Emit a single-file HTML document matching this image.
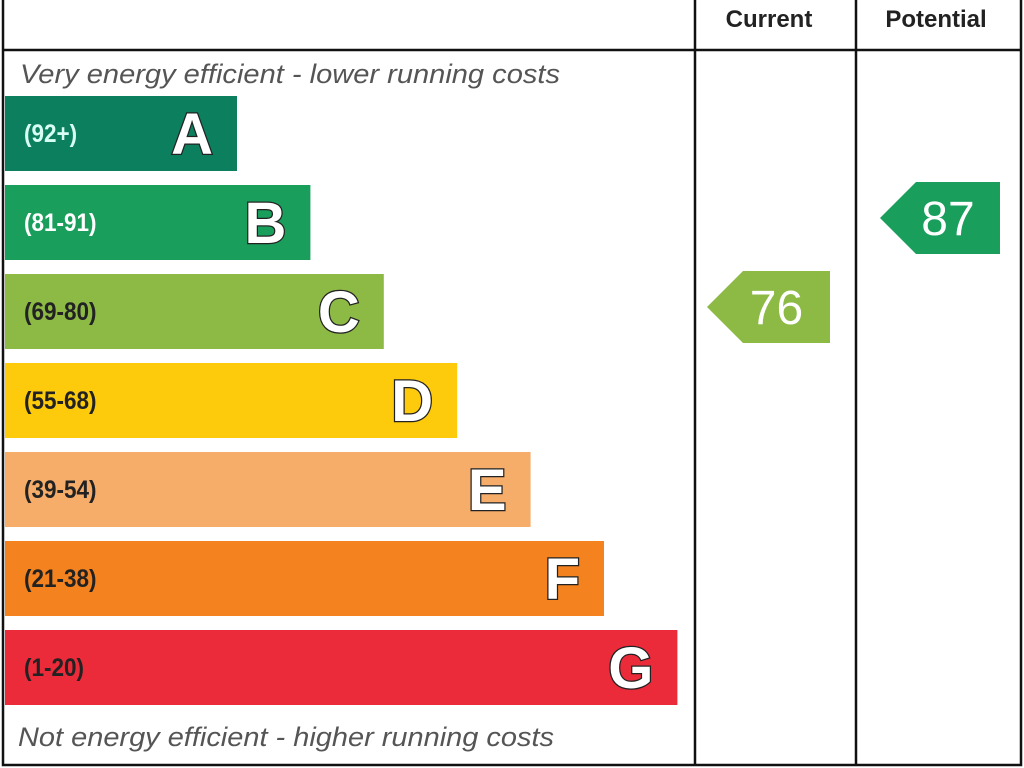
<!DOCTYPE html>
<html><head><meta charset="utf-8"><style>
html,body{margin:0;padding:0;background:#fff;width:1024px;height:768px;overflow:hidden}
svg text{font-family:"Liberation Sans",sans-serif}
</style></head><body>
<svg id="c" width="1024" height="768" xmlns="http://www.w3.org/2000/svg">
<rect x="3" y="-2" width="1018" height="767" fill="none" stroke="#111" stroke-width="2.5"/>
<line x1="3" y1="50" x2="1021" y2="50" stroke="#111" stroke-width="2.5"/>
<line x1="695" y1="0" x2="695" y2="765" stroke="#111" stroke-width="2.5"/>
<line x1="856" y1="0" x2="856" y2="765" stroke="#111" stroke-width="2.5"/>
<text x="769" y="27" text-anchor="middle" font-size="24" font-weight="bold" fill="#222">Current</text>
<text x="936" y="27" text-anchor="middle" font-size="24" font-weight="bold" fill="#222">Potential</text>
<text x="20" y="83" font-size="27" font-style="italic" fill="#555" textLength="540" lengthAdjust="spacingAndGlyphs">Very energy efficient - lower running costs</text>
<text x="18" y="746" font-size="27" font-style="italic" fill="#555" textLength="536" lengthAdjust="spacingAndGlyphs">Not energy efficient - higher running costs</text>
<g id="bands"></g>
<g id="arrows"></g>
</svg>
<script>
const letters=["A","B","C","D","E","F","G"];
const ranges=["(92+)","(81-91)","(69-80)","(55-68)","(39-54)","(21-38)","(1-20)"];
const mins=[92,81,69,55,39,21,1];
const colors=["#0c7f5e","#1a9e5c","#8cba45","#fdca0c","#f7ad6a","#f4821f","#eb2a3a"];
const rangeColors=["#d8fff4","#ffffff","#222","#222","#222","#222","#222"];
const currentValue=76;
const potentialValue=87;
const NS="http://www.w3.org/2000/svg";
function bandY(i){return 96+i*89;}
function bandRight(i){return 237+i*73.4;}
function bandOf(v){for(let i=0;i<mins.length;i++){if(v>=mins[i])return i;}return mins.length-1;}
const g=document.getElementById('bands');
letters.forEach((L,i)=>{
 const r=document.createElementNS(NS,'rect');
 r.setAttribute('x',5);r.setAttribute('y',bandY(i));r.setAttribute('width',bandRight(i)-5);r.setAttribute('height',75);r.setAttribute('fill',colors[i]);
 
 
 g.appendChild(r);
 const t=document.createElementNS(NS,'text');
 t.setAttribute('x',24);t.setAttribute('y',bandY(i)+46);t.setAttribute('font-size','25');t.setAttribute('font-weight','bold');t.setAttribute('fill',rangeColors[i]);
 t.setAttribute('transform',`translate(24,0) scale(0.9,1) translate(-24,0)`);
 t.textContent=ranges[i];
 
 
 g.appendChild(t);
 const l=document.createElementNS(NS,'text');
 l.setAttribute('x',bandRight(i)-24);l.setAttribute('y',bandY(i)+58);l.setAttribute('text-anchor','end');l.setAttribute('font-size','58');l.setAttribute('font-weight','bold');l.setAttribute('fill','#fff');l.setAttribute('stroke','#222');l.setAttribute('stroke-width','2.5');l.setAttribute('paint-order','stroke');
 l.textContent=L;
 
 
 g.appendChild(l);
});
const ag=document.getElementById('arrows');
function arrow(v,x0,x1,name){
 const i=bandOf(v),y=bandY(i)-3,h=72;
 const p=document.createElementNS(NS,'polygon');
 p.setAttribute('points',`${x0},${y+h/2} ${x0+36},${y} ${x1},${y} ${x1},${y+h} ${x0+36},${y+h}`);
 p.setAttribute('fill',colors[i]);
 
 
 ag.appendChild(p);
 const t=document.createElementNS(NS,'text');
 t.setAttribute('x',(x0+x1)/2+8);t.setAttribute('y',y+h/2+17);t.setAttribute('text-anchor','middle');t.setAttribute('font-size','48');t.setAttribute('fill','#fff');
 t.textContent=v;
 
 
 ag.appendChild(t);
}
arrow(currentValue,707,830,'current');
arrow(potentialValue,880,1000,'potential');
</script>
</body></html>
